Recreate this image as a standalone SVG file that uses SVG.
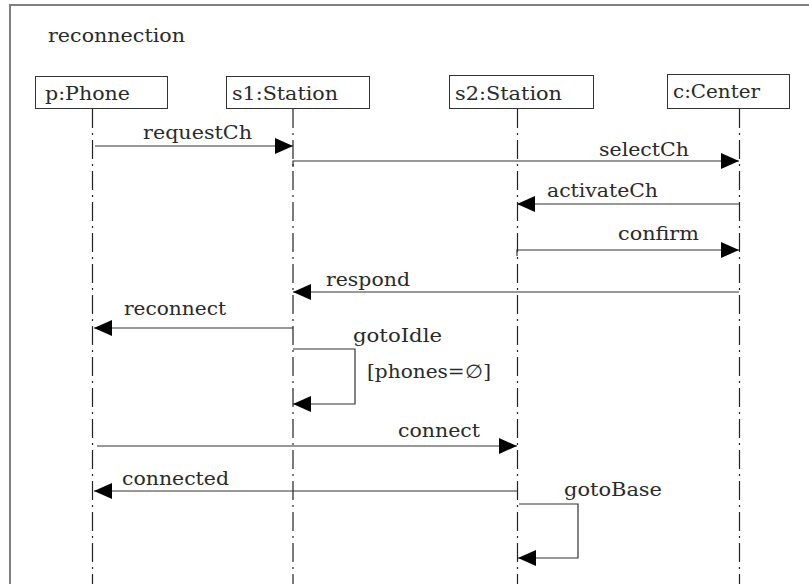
<svg xmlns="http://www.w3.org/2000/svg" width="809" height="584" viewBox="0 0 809 584">
<defs>
<marker id="ah" viewBox="0 0 18 16" refX="18" refY="8" markerWidth="18" markerHeight="16" markerUnits="userSpaceOnUse" orient="auto">
<path d="M0,0 L18,8 L0,16 Z" fill="#000"/>
</marker>
</defs>
<style>
text{font-family:"DejaVu Serif","Liberation Serif",serif;font-size:18.5px;fill:#2a2a2a;}
.box{fill:#fff;stroke:#333;stroke-width:1;}
.life{stroke:#222;stroke-width:1.2;stroke-dasharray:19 5 2 5;fill:none;}
.msg{stroke:#333;stroke-width:1.2;fill:none;marker-end:url(#ah);}
.frame{fill:none;stroke:#808080;stroke-width:2;}
</style>
<rect width="809" height="584" fill="#fff"/>
<rect class="frame" x="10" y="5" width="820" height="600"/>
<text x="48" y="42" textLength="137" lengthAdjust="spacingAndGlyphs">reconnection</text>

<g id="phone">
<rect class="box" x="35.5" y="76.5" width="132" height="32"/>
<text x="45" y="100" textLength="85" lengthAdjust="spacingAndGlyphs">p:Phone</text>
<line class="life" x1="92.5" y1="109" x2="92.5" y2="584"/>
</g>
<g id="s1">
<rect class="box" x="226.5" y="76.5" width="143" height="32"/>
<text x="232" y="100" textLength="106" lengthAdjust="spacingAndGlyphs">s1:Station</text>
<line class="life" x1="293" y1="109" x2="293" y2="584"/>
</g>
<g id="s2">
<rect class="box" x="449.5" y="75.5" width="144" height="33"/>
<text x="455" y="100" textLength="107" lengthAdjust="spacingAndGlyphs">s2:Station</text>
<line class="life" x1="517.5" y1="109" x2="517.5" y2="584"/>
</g>
<g id="center">
<rect class="box" x="667.5" y="74.5" width="122" height="34"/>
<text x="673" y="98" textLength="87" lengthAdjust="spacingAndGlyphs">c:Center</text>
<line class="life" x1="739.5" y1="109" x2="739.5" y2="584"/>
</g>

<g id="connectors">
<path class="msg" d="M95,146 H293"/>
<path class="msg" d="M293,167 V161 H739"/>
<path class="msg" d="M739,204 H517"/>
<path class="msg" d="M517,256 V250 H739"/>
<path class="msg" d="M739,292 H293"/>
<path class="msg" d="M293,328 H94"/>
<path class="msg" d="M293,349 H355 V404 H293"/>
<path class="msg" d="M97,446 H517"/>
<path class="msg" d="M517,491 H94"/>
<path class="msg" d="M519,504 H578 V558 H518"/>
</g>
<g id="labels">
<text x="143" y="139" textLength="109" lengthAdjust="spacingAndGlyphs">requestCh</text>
<text x="599" y="156" textLength="90" lengthAdjust="spacingAndGlyphs">selectCh</text>
<text x="547" y="197" textLength="111" lengthAdjust="spacingAndGlyphs">activateCh</text>
<text x="618" y="240" textLength="81" lengthAdjust="spacingAndGlyphs">confirm</text>
<text x="326" y="286" textLength="84" lengthAdjust="spacingAndGlyphs">respond</text>
<text x="124" y="315" textLength="102" lengthAdjust="spacingAndGlyphs">reconnect</text>
<text x="353" y="342" textLength="89" lengthAdjust="spacingAndGlyphs">gotoIdle</text>
<text x="367" y="378" textLength="124" lengthAdjust="spacingAndGlyphs">[phones=∅]</text>
<text x="398" y="437" textLength="82" lengthAdjust="spacingAndGlyphs">connect</text>
<text x="122" y="485" textLength="107" lengthAdjust="spacingAndGlyphs">connected</text>
<text x="564" y="496" textLength="98" lengthAdjust="spacingAndGlyphs">gotoBase</text>
</g>
</svg>
